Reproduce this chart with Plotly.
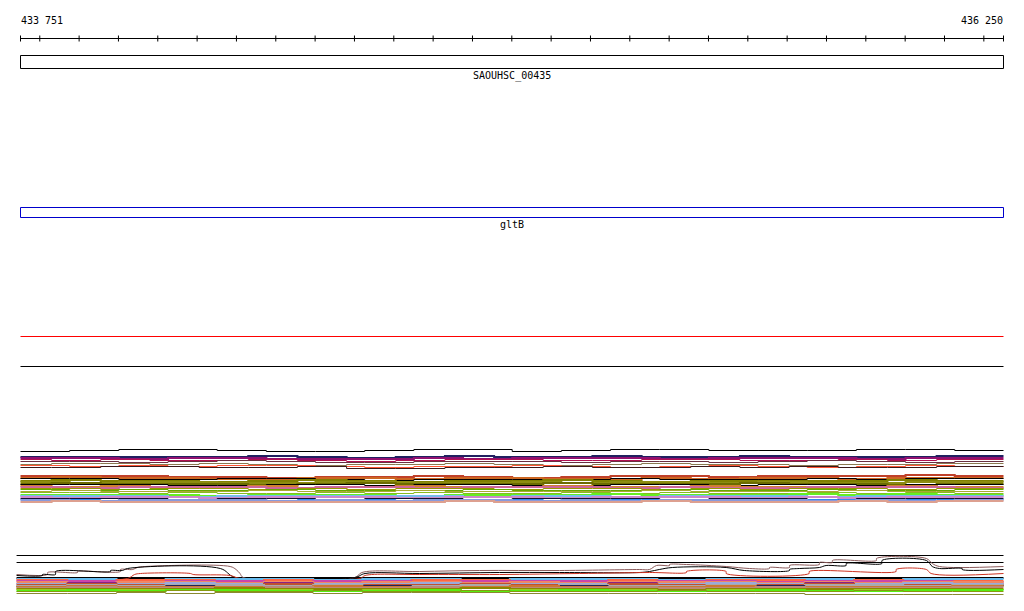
import plotly.graph_objects as go

# ---------------- data ----------------
VIEW_START = 433751
VIEW_END = 436250
ruler_labels = ["433 751", "436 250"]
tick_positions = [433751, 433800, 433900, 434000, 434100, 434200, 434300, 434400, 434500,
                  434600, 434700, 434800, 434900, 435000, 435100, 435200, 435300, 435400,
                  435500, 435600, 435700, 435800, 435900, 436000, 436100, 436200, 436250]

gene_names = ["SAOUHSC_00435", "gltB"]
gene_starts = [433751, 433751]
gene_ends = [436250, 436250]
gene_colors = ["black", "#0000cc"]
gene_rows = [(55, 68), (207, 217)]
gene_label_y = [76, 224]

flat_lines = [(336, "#ff0000"), (366, "black")]

G1 = [433751, 433876, 434001, 434126, 434251, 434376, 434501, 434626, 434751, 434876, 435001,
      435126, 435251, 435376, 435501, 435626, 435751, 435876, 436001, 436126, 436250]
G2 = [433751, 433830, 433955, 434080, 434205, 434330, 434455, 434580, 434705, 434830, 434955,
      435080, 435205, 435330, 435455, 435580, 435705, 435830, 435955, 436080, 436250]
G3 = [433741, 433870, 433995, 434120, 434245, 434370, 434495, 434620, 434745, 434870, 434995,
      435120, 435245, 435370, 435495, 435620, 435745, 435870, 435995, 436120, 436250]

# track 1 series: (colour, width, grid, levels = top row of each segment)
track1 = [
    ("#000000", 1, "G1", [451, 450, 449, 449, 450, 451, 451, 450, 449, 449, 451, 450, 449, 449, 450, 450, 450, 449, 449, 450]),
    ("#202060", 2, "G2", [456, 456, 456, 456, 456, 455, 456, 457, 456, 455, 456, 456, 455, 456, 456, 455, 456, 456, 456, 455]),
    ("#901070", 2, "G1", [457, 457, 458, 457, 457, 458, 458, 458, 457, 458, 457, 457, 457, 458, 457, 457, 457, 458, 457, 457]),
    ("#b01050", 1, "G2", [459, 460, 459, 460, 460, 459, 460, 461, 460, 459, 459, 460, 460, 459, 459, 460, 460, 459, 460, 459]),
    ("#6a3040", 1, "G1", [461, 461, 462, 461, 460, 461, 462, 462, 461, 461, 461, 462, 461, 461, 462, 461, 460, 461, 462, 461]),
    ("#8a7a50", 1, "G2", [464, 463, 463, 464, 463, 464, 465, 464, 464, 463, 464, 465, 464, 463, 464, 464, 465, 464, 464, 463]),
    ("#ff5533", 1, "G1", [465, 466, 465, 466, 465, 465, 466, 467, 466, 466, 465, 466, 467, 466, 465, 466, 467, 466, 465, 466]),
    ("#3a1818", 1, "G2", [467, 467, 466, 466, 467, 467, 466, 468, 468, 467, 467, 466, 467, 467, 466, 467, 466, 467, 467, 466]),
    ("#c0402a", 2, "G1", [475, 475, 475, 476, 476, 477, 476, 476, 475, 476, 477, 476, 475, 475, 476, 475, 475, 475, 474, 475]),
    ("#cc6622", 2, "G2", [477, 476, 477, 477, 478, 478, 477, 477, 478, 477, 477, 478, 478, 477, 478, 477, 477, 478, 477, 477]),
    ("#000000", 1, "G1", [478, 478, 479, 479, 478, 478, 479, 480, 479, 479, 479, 479, 478, 479, 479, 479, 478, 479, 478, 478]),
    ("#808000", 2, "G2", [480, 479, 480, 480, 481, 480, 479, 480, 481, 480, 480, 479, 480, 481, 480, 480, 480, 480, 479, 480]),
    ("#8c8c10", 2, "G1", [481, 482, 481, 481, 482, 482, 481, 481, 482, 482, 481, 482, 481, 481, 482, 481, 482, 482, 481, 481]),
    ("#6b6b00", 2, "G2", [483, 482, 483, 483, 483, 484, 483, 482, 483, 483, 483, 482, 483, 483, 483, 482, 483, 483, 484, 483]),
    ("#000000", 1, "G1", [484, 484, 484, 485, 485, 484, 484, 485, 484, 484, 485, 485, 484, 484, 485, 484, 484, 485, 484, 484]),
    ("#d08030", 2, "G2", [485, 486, 485, 486, 486, 485, 487, 486, 485, 486, 486, 485, 486, 486, 485, 486, 486, 486, 485, 486]),
    ("#cc6699", 2, "G1", [486, 487, 486, 486, 486, 487, 486, 486, 487, 486, 486, 486, 487, 486, 487, 487, 486, 486, 486, 487]),
    ("#999900", 1, "G2", [488, 488, 489, 488, 488, 489, 488, 489, 488, 488, 489, 488, 488, 489, 488, 489, 488, 488, 489, 488]),
    ("#66aa00", 1, "G1", [489, 490, 489, 490, 490, 489, 490, 490, 490, 489, 490, 490, 490, 489, 490, 490, 489, 490, 490, 489]),
    ("#aaaa33", 1, "G2", [491, 490, 491, 491, 491, 490, 491, 491, 490, 491, 491, 491, 491, 490, 491, 491, 491, 490, 491, 491]),
    ("#88bb22", 1, "G1", [492, 492, 493, 492, 493, 493, 492, 493, 492, 493, 493, 492, 493, 492, 493, 493, 492, 493, 492, 493]),
    ("#66ee22", 2, "G2", [494, 494, 494, 494, 495, 494, 494, 494, 495, 494, 494, 494, 493, 494, 494, 494, 493, 494, 493, 494]),
    ("#77bbee", 2, "G1", [495, 495, 495, 496, 495, 495, 495, 495, 495, 496, 495, 495, 496, 495, 495, 495, 496, 495, 495, 495]),
    ("#cc88cc", 2, "G2", [496, 497, 496, 496, 497, 496, 496, 496, 497, 496, 496, 497, 496, 496, 496, 497, 496, 497, 496, 496]),
    ("#101030", 1, "G1", [498, 498, 498, 499, 498, 498, 499, 498, 498, 499, 498, 498, 498, 499, 498, 498, 499, 498, 498, 498]),
    ("#3388ee", 1, "G2", [499, 499, 500, 499, 499, 500, 499, 499, 500, 499, 499, 500, 499, 499, 500, 499, 499, 499, 499, 499]),
    ("#8899dd", 2, "G1", [499, 500, 499, 499, 499, 500, 499, 500, 499, 499, 500, 499, 500, 499, 499, 499, 500, 499, 500, 499]),
    ("#dda090", 2, "G2", [501, 500, 501, 501, 501, 501, 501, 501, 501, 500, 501, 501, 501, 500, 501, 501, 501, 500, 501, 500]),
]

# track 2: straight reference lines (top row, colour, width)
track2_flat = [(555, "#000000", 1), (562, "#000000", 1), (577, "#000000", 2)]

# track 2: curved profiles (position, level)
brown_x = [433741, 433820, 433820, 433896, 433896, 434005, 434005, 434036, 434048, 434068, 434284,
           434299, 434309, 434317, 434601, 434619, 434766, 434918, 435121, 435324, 435350, 435368,
           435401, 435401, 435444, 435545, 435604, 435655, 435655, 435706, 435706, 435782, 435782,
           435815, 435815, 435927, 435927, 436054, 436069, 436087, 436250]
brown_y = [574, 574, 572, 572, 571, 571, 569, 569, 567, 566, 566, 569, 573, 577,
           577, 572, 571, 570, 570, 569, 569, 565, 565, 564, 564, 566, 568, 568,
           567, 567, 565, 564, 562, 562, 560, 560, 558, 558, 563, 566, 566]
black_x = [433741, 433807, 433807, 433840, 433840, 433980, 433980, 434010, 434023, 434259, 434297,
           434601, 434627, 434766, 434969, 435121, 435324, 435350, 435375, 435408, 435545, 435591,
           435706, 435706, 435731, 435782, 435799, 435850, 435850, 435941, 435941, 436054, 436069,
           436087, 436145, 436145, 436250]
black_y = [575, 575, 574, 574, 571, 571, 570, 570, 568, 568, 577, 577, 573,
           573, 572, 572, 572, 571, 569, 567, 567, 570, 570, 569, 568, 567, 565,
           565, 563, 563, 560, 560, 566, 568, 568, 569, 569]
red_x = [433741, 434023, 434041, 434056, 434183, 434190, 434284, 434309, 434614, 434627, 434766,
         434969, 435172, 435350, 435444, 435444, 435545, 435545, 435756, 435756, 435977, 435977,
         436054, 436066, 436250]
red_y = [578, 578, 574, 573, 573, 574, 575, 578, 578, 575, 574, 574, 573, 572, 572,
         571, 571, 573, 573, 571, 571, 569, 569, 573, 573]
track2_curves = [(brown_x, brown_y, "#8b5a5a", 1), (black_x, black_y, "#000000", 1),
                 (red_x, red_y, "#cc3322", 1)]

track2 = [
    ("#66bbee", 2, [578, 578, 579, 578, 578, 578, 579, 578, 578, 579, 578, 578, 578, 579, 578, 578, 578, 579, 578, 578]),
    ("#ff6644", 2, [579, 580, 579, 579, 580, 579, 580, 580, 579, 579, 580, 580, 579, 580, 579, 579, 580, 579, 580, 580]),
    ("#cc44aa", 2, [580, 580, 581, 580, 580, 581, 580, 580, 581, 580, 580, 580, 581, 580, 580, 581, 580, 580, 580, 581]),
    ("#ee8866", 2, [581, 582, 581, 581, 582, 581, 582, 581, 581, 582, 581, 582, 581, 581, 581, 582, 581, 582, 581, 581]),
    ("#882288", 1, [583, 582, 583, 583, 583, 582, 583, 583, 582, 583, 583, 583, 582, 583, 583, 583, 582, 583, 583, 583]),
    ("#99aadd", 2, [583, 583, 583, 582, 583, 583, 583, 583, 582, 583, 583, 583, 583, 583, 582, 583, 583, 583, 582, 583]),
    ("#c05030", 2, [584, 583, 584, 584, 584, 583, 584, 584, 584, 583, 584, 584, 583, 584, 584, 584, 583, 584, 584, 584]),
    ("#aaaaaa", 2, [585, 584, 585, 584, 584, 585, 584, 585, 585, 584, 585, 584, 585, 585, 584, 585, 584, 584, 585, 584]),
    ("#222255", 1, [586, 586, 586, 585, 586, 586, 586, 585, 586, 586, 586, 585, 586, 586, 586, 585, 586, 586, 586, 585]),
    ("#cc7733", 2, [586, 585, 586, 586, 586, 586, 585, 586, 586, 586, 585, 586, 586, 586, 585, 586, 586, 586, 586, 585]),
    ("#bb8877", 2, [587, 586, 587, 587, 587, 586, 587, 587, 586, 587, 587, 587, 586, 587, 587, 586, 587, 587, 587, 586]),
    ("#888800", 2, [588, 588, 588, 588, 587, 588, 588, 588, 588, 587, 588, 588, 588, 589, 588, 588, 588, 588, 588, 588]),
    ("#99cc22", 1, [589, 589, 589, 590, 589, 589, 590, 589, 589, 590, 589, 589, 589, 590, 589, 589, 590, 589, 589, 589]),
    ("#55ee11", 2, [590, 589, 590, 589, 589, 590, 590, 590, 589, 590, 590, 589, 590, 590, 590, 589, 590, 590, 589, 589]),
    ("#889911", 1, [591, 591, 591, 590, 591, 591, 590, 591, 591, 590, 591, 591, 591, 590, 591, 591, 591, 590, 591, 591]),
    ("#8a8a30", 1, [593, 593, 592, 593, 592, 592, 593, 592, 592, 592, 593, 593, 593, 593, 593, 593, 594, 594, 594, 594]),
]

# ---------------- figure ----------------
W, H = 1024, 611
PX_LEFT, PX_RIGHT = 20.5, 1003.5   # pixel-centre alignment of view edges
scale = (PX_RIGHT - PX_LEFT) / (VIEW_END - VIEW_START)
x_lo = VIEW_START - PX_LEFT / scale
x_hi = VIEW_END + (W - PX_RIGHT) / scale

grids = {"G1": G1, "G2": G2, "G3": G3}
fig = go.Figure()


def centre(rows, w):
    # a line whose top pixel row is r and width w is centred at r + w/2
    return [None if r is None else r + w / 2 for r in rows]


def add_line(xs, rows, color, width, shape="linear"):
    fig.add_trace(go.Scatter(x=xs, y=centre(rows, width), mode="lines",
                             line=dict(color=color, width=width, shape=shape),
                             hoverinfo="skip", showlegend=False))

# ruler
add_line([VIEW_START, VIEW_END], [38, 38], "black", 1)
tx, ty = [], []
for t in tick_positions:
    tx += [t, t, None]
    ty += [35.5, 41.5, None]
fig.add_trace(go.Scatter(x=tx, y=ty, mode="lines", line=dict(color="black", width=1),
                         hoverinfo="skip", showlegend=False))

# genes
for name, s, e, c, (y0, y1), ly in zip(gene_names, gene_starts, gene_ends, gene_colors, gene_rows, gene_label_y):
    fig.add_shape(type="rect", x0=s, x1=e, y0=y0 + 0.5, y1=y1 + 0.5, xref="x", yref="y",
                  line=dict(color=c, width=1), fillcolor="rgba(0,0,0,0)")
    fig.add_annotation(x=(s + e) / 2, y=ly, text=name, showarrow=False, xref="x", yref="y",
                       font=dict(family="DejaVu Sans Mono", size=10, color="black"), yanchor="middle")

for yv, c in flat_lines:
    add_line([VIEW_START, VIEW_END], [yv, yv], c, 1)

# track 1
for color, width, g, vals in track1:
    add_line(grids[g], vals + [vals[-1]], color, width, "hv")

# track 2
for yv, c, w in track2_flat:
    add_line([G3[0], VIEW_END], [yv, yv], c, w)
for xs, ys, c, w in track2_curves:
    add_line(xs, ys, c, w, "spline")
for color, width, vals in track2:
    add_line(G3, vals + [vals[-1]], color, width, "hv")

# ruler labels
fig.add_annotation(x=VIEW_START, y=20, text=ruler_labels[0], showarrow=False, xanchor="left", yanchor="middle",
                   xshift=-2, font=dict(family="DejaVu Sans Mono", size=10, color="black"))
fig.add_annotation(x=VIEW_END, y=20, text=ruler_labels[1], showarrow=False, xanchor="right", yanchor="middle",
                   xshift=1, font=dict(family="DejaVu Sans Mono", size=10, color="black"))

fig.update_layout(width=W, height=H, margin=dict(l=0, r=0, t=0, b=0),
                  paper_bgcolor="white", plot_bgcolor="white", showlegend=False,
                  xaxis=dict(range=[x_lo, x_hi], visible=False, fixedrange=True),
                  yaxis=dict(range=[H, 0], visible=False, fixedrange=True))
fig.write_html("out.html", config={"displayModeBar": False},
               post_script="document.body.style.margin='0';document.body.style.overflow='hidden';")
